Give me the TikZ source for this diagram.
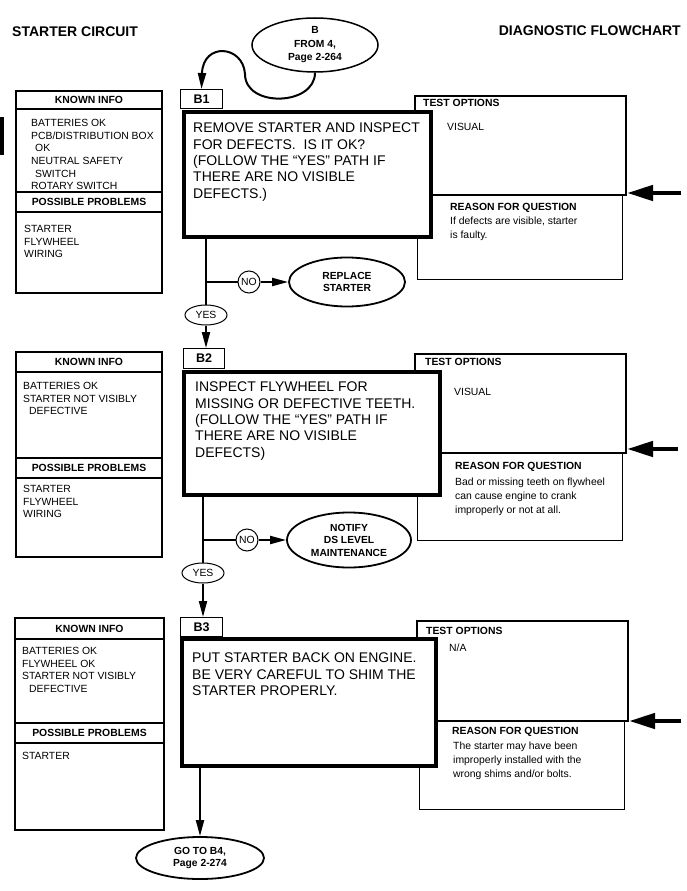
\documentclass[tikz,border=0pt]{standalone}
\usepackage{fontspec}
\setmainfont{Liberation Sans}
\usepackage{tikz}
\usetikzlibrary{arrows.meta,positioning,shapes.geometric,calc}
\newcommand{\fcsmall}{\fontsize{10.4}{12.7}\selectfont}
\newcommand{\fcbody}{\fontsize{10.4}{14}\selectfont}
\newcommand{\fcmain}{\fontsize{14}{16.3}\selectfont}
\newcommand{\fctitle}{\fontsize{14}{16}\selectfont\bfseries}

\begin{document}
\begin{tikzpicture}[x=1pt,y=-1pt,
    infoline/.style={line width=1.1pt},
    infohead/.style={font=\fcsmall\bfseries,inner sep=0pt},
    infolist/.style={font=\fcsmall,align=left,anchor=north west,inner sep=0pt},
    tabbox/.style={draw,line width=1pt,fill=white,anchor=north west,inner sep=0pt,font=\fontsize{12.5}{14}\selectfont\bfseries},
    mainbox/.style={draw,line width=4pt,fill=white,anchor=north west,inner sep=0pt},
    maintext/.style={font=\fcmain,align=left,anchor=north west,inner sep=0pt},
    testbox/.style={draw,line width=2pt,anchor=north west,inner sep=0pt},
    reasonbox/.style={draw,line width=1pt,anchor=north west,inner sep=0pt},
    smallhead/.style={font=\fcsmall\bfseries,anchor=west,inner sep=0pt},
    smalltext/.style={font=\fcbody,align=left,anchor=north west,inner sep=0pt},
    endoval/.style={draw,ellipse,line width=1.8pt,fill=white,inner sep=0pt,align=center,font=\fontsize{10.3}{12.5}\selectfont\bfseries},
    yesoval/.style={draw,ellipse,line width=1pt,fill=white,inner sep=0pt,minimum width=42pt,minimum height=20pt,font=\fcsmall},
    nocircle/.style={draw,circle,line width=1pt,fill=white,inner sep=0pt,minimum size=22pt,font=\fcsmall},
    conn/.style={line width=2pt},
    arr/.style={conn,-{Triangle[length=16pt,width=8pt]}},
    bigarrow/.style={line width=4.5pt,-{Triangle[length=26pt,width=15pt]}}
]
    \useasboundingbox (0,0) rectangle (687,891);
    \node[font=\fctitle,anchor=west,inner sep=0pt] (titleL) at (12,32) {STARTER CIRCUIT};
    \node[font=\fctitle,anchor=east,inner sep=0pt] (titleR) at (681,31) {DIAGNOSTIC FLOWCHART};
    \fill (0,117) rectangle (4,155);

    \draw[infoline] (16,91) rectangle (162,293);
    \draw[infoline] (16,109) -- (162,109) (16,192) -- (162,192) (16,212) -- (162,212);
    \node[infohead] (known1) at (89,100) {KNOWN INFO};
    \node[infolist] (kl1) at (31,119) {BATTERIES OK\\PCB/DISTRIBUTION BOX\\\hspace*{4pt}OK\\NEUTRAL SAFETY\\\hspace*{4pt}SWITCH\\ROTARY SWITCH};
    \node[infohead] (poss1) at (89,202) {POSSIBLE PROBLEMS};
    \node[infolist] (pl1) at (24,225) {STARTER\\FLYWHEEL\\WIRING};
    \node[reasonbox,minimum width=205pt,minimum height=84pt] (reason1) at (417,195) {};
    \node[testbox,minimum width=211pt,minimum height=99pt] (test1) at (414,95) {};
    \node[smallhead] (to1) at (423,103) {TEST OPTIONS};
    \node[smallhead,font=\fcsmall] (vis1) at (447,127) {VISUAL};
    \node[smallhead] (rq1) at (450,208) {REASON FOR QUESTION};
    \node[smalltext] (rt1) at (450,217) {If defects are visible, starter\\is faulty.};
    \node[endoval,line width=1.5pt,minimum width=126pt,minimum height=54pt,font=\fontsize{10.3}{13.5}\selectfont\bfseries] (start) at (315,45) {B\\FROM 4,\\Page 2-264};
    \node[tabbox,minimum width=42pt,minimum height=19pt] (tab1) at (180,89) {B1};
    \coordinate (bend) at (245,74);
    \draw[arr] (start.south) .. controls (315,106) and (245,108) .. (bend) .. controls (243,45) and (203,42) .. (tab1.north);
    \node[mainbox,minimum width=247pt,minimum height=125pt] (main1) at (182,110) {};
    \node[maintext] (mt1) at (193,123) {REMOVE STARTER AND INSPECT\\FOR DEFECTS.\ \ IS IT OK?\\(FOLLOW THE “YES” PATH IF\\THERE ARE NO VISIBLE\\DEFECTS.)};
    \node[yesoval] (yes1) at (206,315) {YES};
    \node[nocircle] (no1) at (249,282) {NO};
    \node[endoval,minimum width=116pt,minimum height=49pt] (rep1) at (347,282) {REPLACE\\STARTER};
    \draw[conn] (main1.south -| yes1) -- (yes1.north);
    \draw[conn] (yes1 |- no1) -- (no1.west);
    \draw[arr] (no1.east) -- (rep1.west);
    \coordinate (in1) at (681,193);
    \draw[bigarrow] (in1) -- (in1 -| test1.east);

    \draw[infoline] (16,352) rectangle (162,557);
    \draw[infoline] (16,372) -- (162,372) (16,458) -- (162,458) (16,478) -- (162,478);
    \node[infohead] (known2) at (89,362) {KNOWN INFO};
    \node[infolist] (kl2) at (23,382) {BATTERIES OK\\STARTER NOT VISIBLY\\\hspace*{6pt}DEFECTIVE};
    \node[infohead] (poss2) at (89,468) {POSSIBLE PROBLEMS};
    \node[infolist] (pl2) at (23,485) {STARTER\\FLYWHEEL\\WIRING};
    \node[reasonbox,minimum width=205pt,minimum height=87pt] (reason2) at (417,453) {};
    \node[testbox,minimum width=211pt,minimum height=99pt] (test2) at (414,353) {};
    \node[smallhead] (to2) at (425,362) {TEST OPTIONS};
    \node[smallhead,font=\fcsmall] (vis2) at (454,392) {VISUAL};
    \node[smallhead] (rq2) at (455,467) {REASON FOR QUESTION};
    \node[smalltext] (rt2) at (455,478) {Bad or missing teeth on flywheel\\can cause engine to crank\\improperly or not at all.};
    \node[tabbox,minimum width=41pt,minimum height=20pt] (tab2) at (183,348) {B2};
    \node[mainbox,minimum width=256pt,minimum height=123pt] (main2) at (182,370) {};
    \node[maintext] (mt2) at (195,382) {INSPECT FLYWHEEL FOR\\MISSING OR DEFECTIVE TEETH.\\(FOLLOW THE “YES” PATH IF\\THERE ARE NO VISIBLE\\DEFECTS)};
    \draw[arr] (yes1.south) -- (yes1.south |- tab2.north);
    \node[yesoval] (yes2) at (203,573) {YES};
    \node[nocircle] (no2) at (247,540) {NO};
    \node[endoval,minimum width=124pt,minimum height=55pt] (notify) at (349,540) {NOTIFY\\DS LEVEL\\MAINTENANCE};
    \draw[conn] (main2.south -| yes2) -- (yes2.north);
    \draw[conn] (yes2 |- no2) -- (no2.west);
    \draw[arr] (no2.east) -- (notify.west);
    \coordinate (in2) at (678,449);
    \draw[bigarrow] (in2) -- (in2 -| test2.east);

    \draw[infoline] (15,618) rectangle (164,830);
    \draw[infoline] (15,639) -- (164,639) (15,723) -- (164,723) (15,743) -- (164,743);
    \node[infohead] (known3) at (89.5,629) {KNOWN INFO};
    \node[infolist] (kl3) at (22,647) {BATTERIES OK\\FLYWHEEL OK\\STARTER NOT VISIBLY\\\hspace*{7pt}DEFECTIVE};
    \node[infohead] (poss3) at (89.5,733) {POSSIBLE PROBLEMS};
    \node[infolist] (pl3) at (22,752) {STARTER};
    \node[reasonbox,minimum width=205pt,minimum height=88pt] (reason3) at (419,721) {};
    \node[testbox,minimum width=211pt,minimum height=100pt] (test3) at (416,620) {};
    \node[smallhead] (to3) at (426,631) {TEST OPTIONS};
    \node[smallhead,font=\fcsmall] (na3) at (449,648) {N/A};
    \node[smallhead] (rq3) at (452,732) {REASON FOR QUESTION};
    \node[smalltext] (rt3) at (453,742) {The starter may have been\\improperly installed with the\\wrong shims and/or bolts.};
    \node[tabbox,minimum width=42pt,minimum height=19pt] (tab3) at (180,617) {B3};
    \draw[arr] (yes2.south) -- (yes2.south |- tab3.north);
    \node[mainbox,minimum width=254pt,minimum height=127pt] (main3) at (180,637) {};
    \node[maintext] (mt3) at (192,653) {PUT STARTER BACK ON ENGINE.\\BE VERY CAREFUL TO SHIM THE\\STARTER PROPERLY.};
    \node[endoval,minimum width=128pt,minimum height=42pt] (goto) at (200,858) {GO TO B4,\\Page 2-274};
    \draw[arr] (main3.south -| goto) -- (goto.north);
    \coordinate (in3) at (681,721);
    \draw[bigarrow] (in3) -- (in3 -| test3.east);
\end{tikzpicture}
\end{document}
